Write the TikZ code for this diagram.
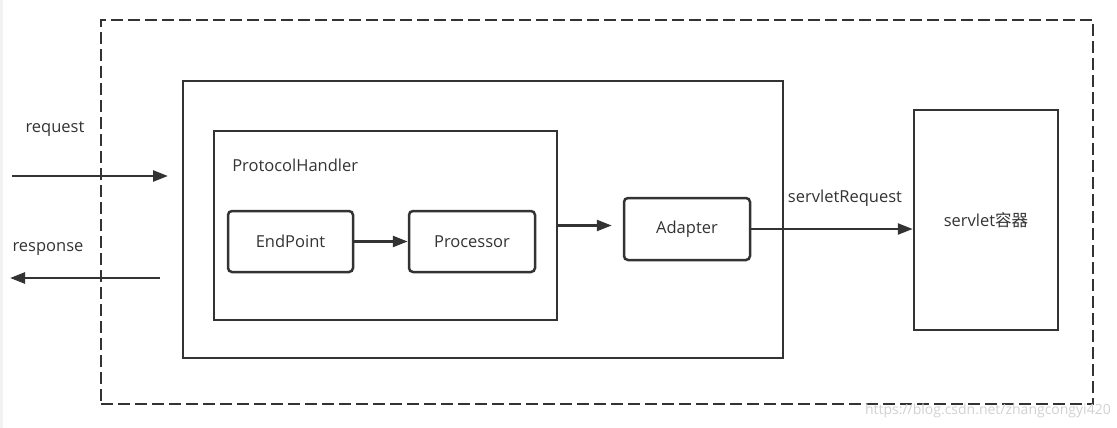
\documentclass[tikz,border=0pt]{standalone}
\usepackage{fontspec}
\setmainfont{Open Sans}
\newfontfamily\cjk{Noto Sans CJK SC}
\usetikzlibrary{arrows.meta}
\definecolor{ink}{HTML}{333333}

\begin{document}
\begin{tikzpicture}[x=1pt, y=-1pt, line width=2.5pt, color=ink,
	font=\fontsize{16.5}{19}\selectfont,
	box/.style={draw, rectangle, inner sep=0},
	rbox/.style={box, rounded corners=4pt},
	lbl/.style={inner sep=0},
	arr/.style={-{Triangle[length=15pt,width=11pt]}}]
	\useasboundingbox (0,0) rectangle (1117,428);
	\fill[black!5] (0,0) rectangle (3,428);

	% outer dashed frame
	\node[box, line width=2.8pt, dash pattern=on 12pt off 5pt, minimum width=992, minimum height=384] (frame) at (597,212) {};

	% connector, protocol handler
	\node[box, minimum width=600, minimum height=277] (connector) at (483,219.5) {};
	\node[box, minimum width=343, minimum height=189] (handler) at (385.5,225.5) {};
	\node[lbl, anchor=west] (handlerlabel) at (231,165) {ProtocolHandler};

	% endpoint, processor, adapter
	\node[rbox, minimum width=125, minimum height=61] (endpoint) at (290.5,241.5) {EndPoint};
	\node[rbox, minimum width=126, minimum height=61] (processor) at (472,241.5) {Processor};
	\node[rbox, minimum width=126, minimum height=62] (adapter) at (687,229) {Adapter};

	% servlet container
	\node[box, minimum width=144, minimum height=220] (container) at (986,220) {servlet{\cjk 容器}};

	% request, response
	\coordinate (reqfrom) at (12,176);
	\coordinate (reqto) at (168,176);
	\draw[arr] (reqfrom) -- (reqto);
	\node[lbl] (reqlabel) at (55,129) {request};

	\coordinate (resfrom) at (160,278);
	\coordinate (resto) at (10,278);
	\draw[arr] (resfrom) -- (resto);
	\node[lbl] (reslabel) at (48,249) {response};

	% links
	\draw[arr] (endpoint) -- (processor);
	\draw[arr, shorten >=11pt] (handler.east) -- (adapter.west |- handler.east);
	\draw[arr] (adapter) -- (adapter.east -| container.west);
	\node[lbl] (reqname) at (845,198) {servletRequest};

	% watermark
	\node[lbl, text=black!18, font=\fontsize{14}{16}\selectfont, anchor=east] (mark) at (1112,411) {https://blog.csdn.net/zhangcongyi420};
\end{tikzpicture}
\end{document}
